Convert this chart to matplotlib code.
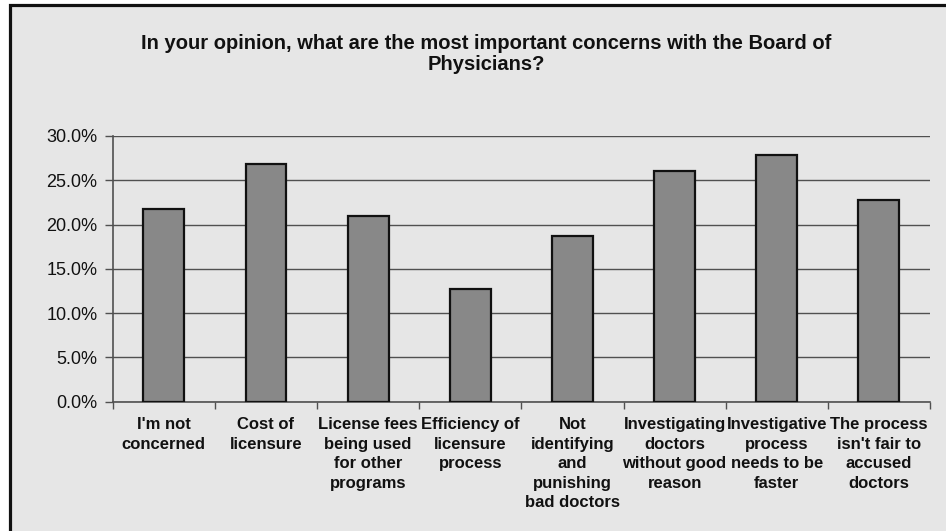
import numpy as np
import matplotlib.pyplot as plt
from matplotlib.patches import Rectangle
from matplotlib.ticker import MultipleLocator, FuncFormatter

# Survey data (share of respondents)
categories = [
    "I'm not\nconcerned",
    "Cost of\nlicensure",
    "License fees\nbeing used\nfor other\nprograms",
    "Efficiency of\nlicensure\nprocess",
    "Not\nidentifying\nand\npunishing\nbad doctors",
    "Investigating\ndoctors\nwithout good\nreason",
    "Investigative\nprocess\nneeds to be\nfaster",
    "The process\nisn't fair to\naccused\ndoctors",
]
values = [21.8, 26.8, 21.0, 12.7, 18.7, 26.0, 27.8, 22.8]

title = "In your opinion, what are the most important concerns with the Board of\nPhysicians?"

bg = "#e6e6e6"
W, H = 946, 531

fig = plt.figure(figsize=(W / 100, H / 100), dpi=100)
fig.patch.set_facecolor("white")

# chart area background with black frame (cropped at right/bottom)
frame = Rectangle((9.5 / W, -0.05), 1.1, 1 - 5.5 / H + 0.05, transform=fig.transFigure,
                  facecolor=bg, edgecolor="#111111", linewidth=2.3, zorder=-10)
fig.patches.append(frame)

ax = fig.add_axes([112.7 / W, 1 - 401.7 / H, (930 - 112.7) / W, (401.7 - 136) / H])
ax.set_facecolor(bg)

x = np.arange(len(values))
ax.bar(x, values, width=0.4, color="#888888", edgecolor="#111111", linewidth=1.6, zorder=3)

ax.set_xlim(-0.5, len(values) - 0.5)
ax.set_ylim(0, 30)
ax.yaxis.set_major_locator(MultipleLocator(5))
ax.yaxis.set_major_formatter(FuncFormatter(lambda v, p: f"{v:.1f}%"))
ax.grid(axis="y", color="#505050", linewidth=1.0, zorder=1)
ax.set_axisbelow(True)

# ticks at category boundaries, labels at centers
ax.set_xticks(np.arange(len(values) + 1) - 0.5)
ax.set_xticklabels([])
ax.set_xticks(x, minor=True)
ax.set_xticklabels(categories, minor=True, fontsize=12, fontweight="bold",
                   family=["Liberation Sans", "DejaVu Sans"], linespacing=1.38, color="#111111")
ax.tick_params(axis="x", which="minor", length=0, pad=11)
ax.tick_params(axis="x", which="major", length=5, width=1, color="#505050", direction="out")
ax.tick_params(axis="y", length=6, width=1, color="#505050", direction="out", pad=5,
               labelsize=13, labelcolor="#111111")
for lab in ax.get_yticklabels():
    lab.set_family(["Liberation Sans", "DejaVu Sans"])

for side in ["top", "right"]:
    ax.spines[side].set_visible(False)
for side in ["left", "bottom"]:
    ax.spines[side].set_color("#505050")
    ax.spines[side].set_linewidth(1.2)

fig.text(486 / W, 1 - 34 / H, title, ha="center", va="top", fontsize=14.5, fontweight="bold",
         family=["Liberation Sans", "DejaVu Sans"],
         linespacing=1.15, color="#111111")

plt.savefig("out.png", dpi=100, facecolor=fig.get_facecolor())
